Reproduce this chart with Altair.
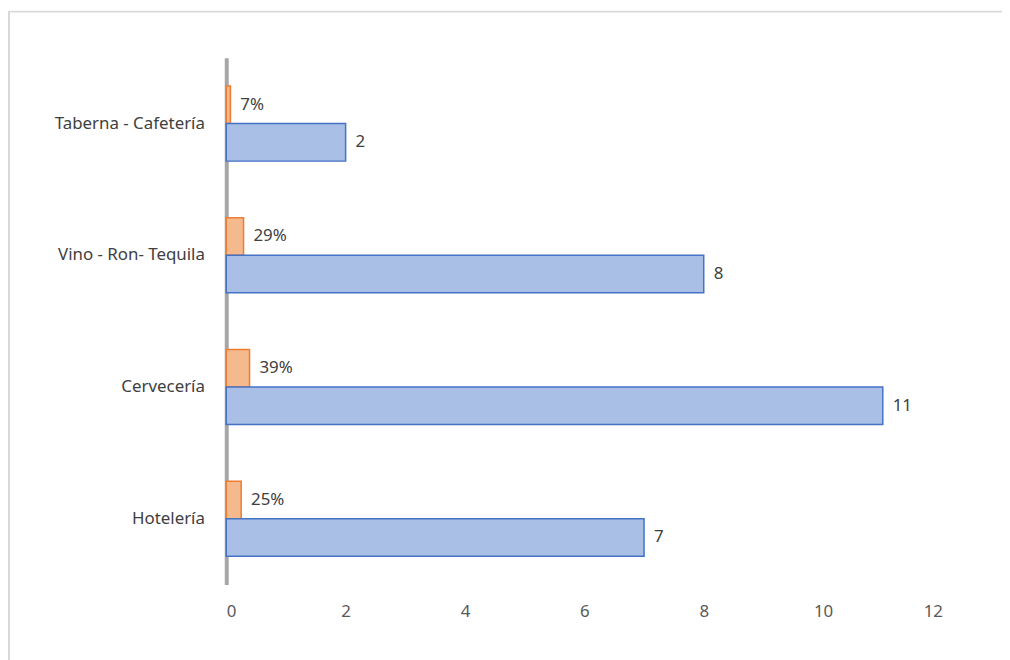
import altair as alt
import pandas as pd

categories = ["Taberna - Cafetería", "Vino - Ron- Tequila", "Cervecería", "Hotelería"]
counts = [2, 8, 11, 7]
shares = [0.07, 0.29, 0.39, 0.25]
share_labels = ["7%", "29%", "39%", "25%"]
x_ticks = [0, 2, 4, 6, 8, 10, 12]

rows = []
for c, n, s, sl in zip(categories, counts, shares, share_labels):
    rows.append({"cat": c, "series": "pct", "value": s, "label": sl})
    rows.append({"cat": c, "series": "count", "value": n, "label": str(n)})
df = pd.DataFrame(rows)

FONT = "Noto Sans"
W, H = 722, 531

y_enc = alt.Y("cat:N", sort=categories,
              scale=alt.Scale(paddingInner=0.43, paddingOuter=0.215),
              axis=alt.Axis(title=None, ticks=False, labelPadding=22,
                            labelFontSize=17, labelColor="#404040", labelFont=FONT,
                            domainColor="#a6a6a6", domainWidth=4))
yoff = alt.YOffset("series:N", sort=["pct", "count"],
                   scale=alt.Scale(domain=["pct", "count"], paddingInner=0, paddingOuter=0))
x_enc = alt.X("value:Q", scale=alt.Scale(domain=[0, 12], nice=False),
              axis=alt.Axis(title=None, values=x_ticks, format="d", grid=False, ticks=False,
                            domain=False, labelFontSize=17, labelColor="#595959",
                            labelFont=FONT, labelPadding=19))

bars = alt.Chart(df).mark_bar(strokeWidth=1.5).encode(
    x=x_enc, y=y_enc, yOffset=yoff,
    fill=alt.Fill("series:N", scale=alt.Scale(domain=["pct", "count"], range=["#f5b98e", "#a9bfe6"]), legend=None),
    stroke=alt.Stroke("series:N", scale=alt.Scale(domain=["pct", "count"], range=["#ed7d31", "#4472c4"]), legend=None),
)

labels = alt.Chart(df).mark_text(align="left", baseline="middle", dx=10, fontSize=17,
                                 color="#404040", font=FONT).encode(
    x="value:Q", y=alt.Y("cat:N", sort=categories), yOffset=yoff, text="label:N")

frame = alt.Chart(pd.DataFrame({"k": [0]})).mark_rect(
    fill=None, stroke="#d9d9d9", strokeWidth=2).encode(
    x=alt.value(-219), x2=alt.value(800), y=alt.value(-46.5), y2=alt.value(620))

chart = alt.layer(frame, bars, labels).properties(
    width=W, height=H,
    autosize=alt.AutoSizeParams(type="none"),
    padding={"left": 220, "top": 47.5, "right": 60, "bottom": 80},
).configure_view(stroke=None)

chart.save("out.html", embed_options={"renderer": "svg", "actions": False})
